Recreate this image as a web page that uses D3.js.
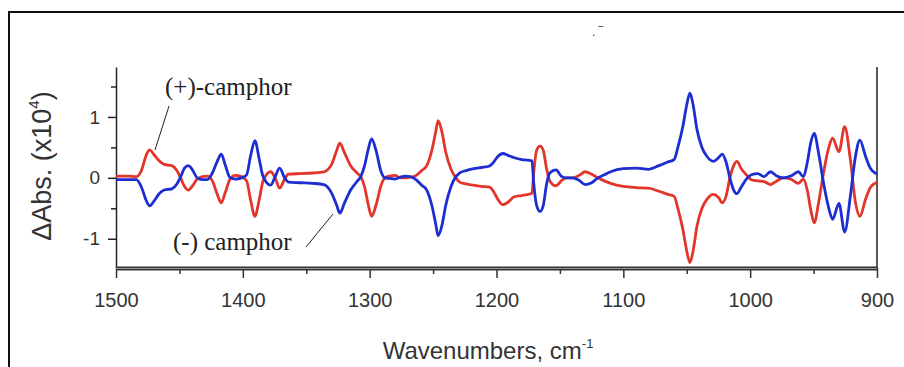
<!DOCTYPE html>
<html>
<head>
<meta charset="utf-8">
<script src="https://cdn.jsdelivr.net/npm/d3@7"></script>
<style>
  html, body { margin: 0; padding: 0; background: #fff; }
  svg { display: block; }
</style>
</head>
<body>
<div id="chart"></div>
<script>
const wavenumbers = [
  1500, 1490, 1484, 1480, 1476, 1473.5, 1470, 1466, 1462, 1456, 1452, 1449, 1446, 1443, 1440,
  1436, 1432, 1428, 1424, 1420, 1417, 1414, 1410, 1406, 1401, 1397, 1394, 1390.5, 1387, 1384,
  1378, 1374.5, 1371, 1367, 1364, 1355, 1345, 1336, 1330, 1326, 1323.5, 1320, 1315, 1310, 1307,
  1304, 1301, 1298.5, 1295, 1291, 1288, 1284, 1280, 1276, 1272, 1268, 1264, 1259, 1255, 1251,
  1248, 1246, 1243, 1240, 1236, 1232, 1229, 1224, 1218, 1212, 1206, 1203, 1199, 1195, 1191,
  1186, 1180, 1175, 1172, 1170.8, 1168.4, 1165.7, 1163.1, 1160.5, 1158, 1153, 1149, 1145, 1140, 1135, 1130,
  1125, 1120, 1115, 1110, 1100, 1090, 1080, 1072, 1065, 1060, 1057, 1053, 1050, 1047.5, 1045,
  1042, 1038, 1034, 1029, 1025, 1022, 1019, 1016, 1013, 1010.5, 1007, 1003, 999, 994, 989,
  984, 979, 974, 968, 962, 958, 955, 952, 949.5, 946, 942, 938, 935, 930, 925.5,
  921, 917, 913.5, 909, 905, 901.5, 900
];

// (+)-camphor, red
const plusCamphor = [
  0.03, 0.03, 0.02, 0.12, 0.38, 0.46, 0.38, 0.28, 0.22, 0.20, 0.12, 0.00, -0.14, -0.20, -0.14,
  -0.02, 0.02, 0.03, -0.05, -0.28, -0.41, -0.25, -0.02, 0.04, 0.02, -0.05, -0.35, -0.63, -0.35, -0.05,
  0.10, 0.00, -0.17, -0.02, 0.06, 0.07, 0.08, 0.10, 0.22, 0.45, 0.57, 0.42, 0.20, 0.08, 0.02,
  -0.15, -0.45, -0.63, -0.45, -0.12, 0.00, 0.03, 0.04, 0.00, 0.00, 0.01, 0.03, 0.12, 0.20, 0.45,
  0.75, 0.94, 0.75, 0.42, 0.15, 0.00, -0.07, -0.10, -0.12, -0.14, -0.15, -0.20, -0.35, -0.44, -0.40,
  -0.31, -0.29, -0.27, -0.25, 0.05, 0.45, 0.52, 0.45, 0.15, -0.05, -0.13, -0.05, 0.00, 0.00, 0.04, 0.10,
  0.06, 0.00, -0.05, -0.09, -0.14, -0.16, -0.17, -0.22, -0.27, -0.30, -0.50, -0.85, -1.20, -1.39, -1.20,
  -0.80, -0.50, -0.35, -0.27, -0.32, -0.41, -0.30, 0.00, 0.20, 0.27, 0.15, 0.05, -0.03, -0.05, -0.06,
  -0.11, -0.05, 0.00, -0.02, -0.09, -0.02, -0.20, -0.55, -0.74, -0.40, 0.10, 0.50, 0.65, 0.43, 0.84,
  0.30, -0.40, -0.63, -0.35, -0.15, -0.09, -0.07
];

// (-) camphor, blue
const minusCamphor = [
  -0.03, -0.03, -0.03, -0.15, -0.38, -0.46, -0.38, -0.26, -0.20, -0.18, -0.10, 0.02, 0.16, 0.20, 0.14,
  0.00, -0.03, -0.03, 0.08, 0.28, 0.39, 0.22, 0.00, -0.02, 0.00, 0.05, 0.35, 0.61, 0.30, 0.02,
  -0.12, 0.02, 0.16, 0.00, -0.07, -0.08, -0.09, -0.11, -0.25, -0.45, -0.58, -0.42, -0.20, -0.06, 0.02,
  0.20, 0.48, 0.64, 0.45, 0.10, 0.00, -0.01, -0.02, 0.01, 0.03, 0.02, -0.02, -0.12, -0.20, -0.45,
  -0.75, -0.95, -0.78, -0.45, -0.15, 0.02, 0.08, 0.12, 0.15, 0.17, 0.19, 0.24, 0.35, 0.40, 0.37,
  0.33, 0.30, 0.29, 0.28, -0.05, -0.45, -0.55, -0.45, -0.10, 0.08, 0.13, 0.03, 0.00, 0.00, -0.04, -0.11,
  -0.08, 0.00, 0.05, 0.10, 0.15, 0.16, 0.14, 0.20, 0.26, 0.30, 0.50, 0.85, 1.20, 1.39, 1.20,
  0.80, 0.50, 0.35, 0.27, 0.33, 0.39, 0.26, 0.00, -0.20, -0.26, -0.15, -0.02, 0.05, 0.07, 0.02,
  0.10, 0.03, 0.00, 0.03, 0.10, 0.02, 0.25, 0.60, 0.73, 0.40, -0.10, -0.50, -0.68, -0.42, -0.89,
  -0.30, 0.35, 0.62, 0.35, 0.15, 0.08, 0.07
];

const xTicks = [1500, 1400, 1300, 1200, 1100, 1000, 900];
const xMinorTicks = [1450, 1350, 1250, 1150, 1050, 950];
const yTicks = [-1, 0, 1];
const yMinorTicks = [-0.5, 0.5, 1.5];

const width = 904, height = 367;
const sans = 'Liberation Sans, Arial, sans-serif';
const serif = 'Liberation Serif, Times New Roman, serif';

const svg = d3.select('#chart').append('svg')
  .attr('width', width)
  .attr('height', height);

// outer frame
svg.append('rect')
  .attr('x', 9).attr('y', 12)
  .attr('width', 910).attr('height', 420)
  .attr('fill', 'none')
  .attr('stroke', '#111')
  .attr('stroke-width', 2);

const x = d3.scaleLinear().domain([1500, 900]).range([116, 877]);
const y = d3.scaleLinear().domain([-1.48, 1.82]).range([268, 67]);

// y axis, left
const yAxis = svg.append('g')
  .attr('transform', `translate(${x(1500)},0)`)
  .call(d3.axisLeft(y).tickValues(yTicks).tickSize(8).tickSizeOuter(0).tickPadding(8)
    .tickFormat(d => String(d)));
yAxis.selectAll('text').attr('font-family', sans)
  .attr('font-size', 19).attr('fill', '#333');
yAxis.selectAll('line, path').attr('stroke', '#222').attr('stroke-width', 1.5);

svg.append('g')
  .attr('transform', `translate(${x(1500)},0)`)
  .call(d3.axisLeft(y).tickValues(yMinorTicks).tickSize(5).tickFormat(''))
  .call(g => g.select('.domain').remove())
  .selectAll('line').attr('stroke', '#222').attr('stroke-width', 1.5);

// right frame line of the plot
svg.append('line')
  .attr('x1', x(900)).attr('x2', x(900))
  .attr('y1', y.range()[1]).attr('y2', y.range()[0])
  .attr('stroke', '#222').attr('stroke-width', 1.5);

// x axis
const xAxis = svg.append('g')
  .attr('transform', `translate(0,${y.range()[0]})`)
  .call(d3.axisBottom(x).tickValues(xTicks).tickSize(10).tickSizeOuter(0).tickPadding(15)
    .tickFormat(d => String(d)));
xAxis.select('.domain').attr('stroke', '#333').attr('stroke-width', 4);
xAxis.selectAll('.tick line').attr('stroke', '#333').attr('stroke-width', 1.5);
xAxis.selectAll('text').attr('font-family', sans)
  .attr('font-size', 20).attr('fill', '#333');

svg.append('g')
  .attr('transform', `translate(0,${y.range()[0]})`)
  .call(d3.axisBottom(x).tickValues(xMinorTicks).tickSize(6).tickFormat(''))
  .call(g => g.select('.domain').remove())
  .selectAll('line').attr('stroke', '#333').attr('stroke-width', 1.5);

// lighter core of the double x axis line
svg.append('line')
  .attr('x1', x(1500)).attr('x2', x(900))
  .attr('y1', y.range()[0] + 0.5).attr('y2', y.range()[0] + 0.5)
  .attr('stroke', '#999').attr('stroke-width', 1);

// curves
const line = d3.line()
  .x(d => x(d[0]))
  .y(d => y(d[1]))
  .curve(d3.curveMonotoneX);

const series = [
  { values: plusCamphor, color: '#e2352b' },
  { values: minusCamphor, color: '#1c2dd2' }
];

svg.append('g')
  .attr('fill', 'none')
  .attr('stroke-width', 2.8)
  .attr('stroke-linejoin', 'round')
  .selectAll('path')
  .data(series)
  .enter().append('path')
  .attr('stroke', d => d.color)
  .attr('d', d => line(wavenumbers.map((w, i) => [w, d.values[i]])));

// labels
svg.append('text')
  .attr('x', 165).attr('y', 95)
  .attr('font-family', serif).attr('font-size', 25).attr('fill', '#222')
  .text('(+)-camphor');
svg.append('line')
  .attr('x1', 169).attr('y1', 106).attr('x2', 155).attr('y2', 150)
  .attr('stroke', '#222').attr('stroke-width', 1);

svg.append('text')
  .attr('x', 173).attr('y', 250)
  .attr('font-family', serif).attr('font-size', 25).attr('fill', '#222')
  .text('(-) camphor');
svg.append('line')
  .attr('x1', 306).attr('y1', 247).attr('x2', 333).attr('y2', 214)
  .attr('stroke', '#222').attr('stroke-width', 1);

// axis titles
const xTitle = svg.append('text')
  .attr('x', 488).attr('y', 359)
  .attr('text-anchor', 'middle')
  .attr('font-family', sans)
  .attr('font-size', 24).attr('fill', '#333');
xTitle.append('tspan').text('Wavenumbers, cm');
xTitle.append('tspan').attr('dy', -11).attr('font-size', 13).text('-1');

const yTitle = svg.append('text')
  .attr('transform', 'translate(51,166) rotate(-90)')
  .attr('text-anchor', 'middle')
  .attr('font-family', sans)
  .attr('font-size', 27).attr('fill', '#333');
yTitle.append('tspan').text('ΔAbs. (x10');
yTitle.append('tspan').attr('dy', -12).attr('font-size', 15).text('4');
yTitle.append('tspan').attr('dy', 12).text(')');

// stray marks near the top
svg.append('text')
  .attr('x', 592).attr('y', 36)
  .attr('font-family', sans)
  .attr('font-size', 12).attr('fill', '#333')
  .text('. ‾');
</script>
</body>
</html>
